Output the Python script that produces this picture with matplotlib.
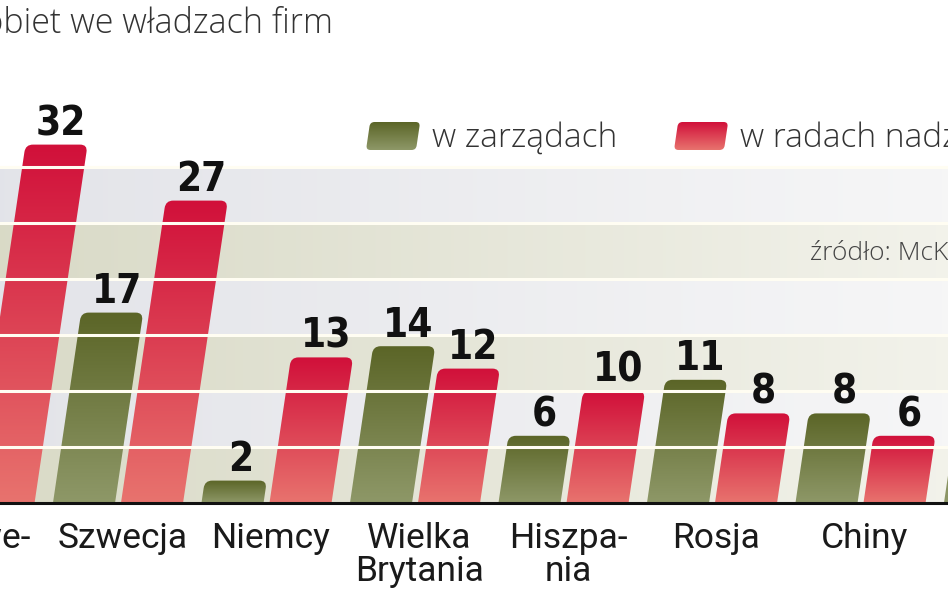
import matplotlib
matplotlib.use('Agg')
import matplotlib.pyplot as plt
import numpy as np
from matplotlib.patches import FancyBboxPatch
from matplotlib.transforms import Affine2D
from matplotlib.colors import LinearSegmentedColormap

# dane (proc.)
kraje = ['Norwe-\ngia', 'Szwecja', 'Niemcy', 'Wielka\nBrytania', 'Hiszpa-\nnia', 'Rosja', 'Chiny', 'USA']
zarzady = [15, 17, 2, 14, 6, 11, 8, 14]
rady = [32, 27, 13, 12, 10, 8, 6, 15]
seria = ['w zarządach', 'w radach nadzorczych']

PX_Y = 11.2          # pikseli na 1 pkt proc.
PX_X = 148.5         # pikseli na grupe
W = 0.418
OFF = 0.229
SLANT = 0.148 * PX_Y / PX_X   # pochylenie slupkow w jednostkach danych

green = LinearSegmentedColormap.from_list('g', ['#8e9868', '#5b6527'])
red = LinearSegmentedColormap.from_list('r', ['#e8736e', '#d1103a'])

fig = plt.figure(figsize=(9.48, 5.93), dpi=100)
ax = fig.add_axes([0, 90 / 593, 1, 503 / 593])
x0lim = 1 - 118 / PX_X
x1lim = x0lim + 948 / PX_X
ax.axis('off')

skew = Affine2D(np.array([[1, SLANT, 0], [0, 1, 0], [0, 0, 1]]))


def slanted(x, y0, w, top, cmap, r=0.05):
    p = FancyBboxPatch((x, y0), w, top - y0,
                       boxstyle='round,pad=0,rounding_size=%f' % r,
                       mutation_aspect=PX_X / PX_Y,
                       transform=skew + ax.transData,
                       facecolor='none', edgecolor='none', zorder=3)
    ax.add_patch(p)
    grad = np.linspace(0, 1, 256).reshape(-1, 1)
    im = ax.imshow(grad, extent=[x - 0.1, x + w + 0.6, max(y0, 0), top],
                   origin='lower', aspect='auto', cmap=cmap, zorder=3,
                   interpolation='bilinear')
    im.set_clip_path(p)


# tlo w pasy
left_cols = {0: np.array([0.851, 0.855, 0.78]), 1: np.array([0.89, 0.894, 0.914])}
right_cols = {0: np.array([0.95, 0.95, 0.92]), 1: np.array([0.965, 0.965, 0.968])}
for k in range(6):
    t = np.linspace(0, 1, 200)[:, None]
    c = left_cols[k % 2] * (1 - t) + right_cols[k % 2] * t
    ax.imshow(c[None, :, :], extent=[x0lim, x1lim, 5 * k, 5 * k + 5],
              aspect='auto', zorder=1, interpolation='bilinear')

# slupki
for i in range(len(kraje)):
    for val, off, cm in [(zarzady[i], -OFF, green), (rady[i], OFF, red)]:
        slanted(i + off - W / 2, -2, W, val, cm)
        ax.text(i + off + SLANT * val + 0.03, val + 0.85, str(val),
                ha='center', va='baseline', fontsize=29, fontweight='bold',
                fontstretch='condensed', family='DejaVu Sans', color='#111111',
                zorder=5)
    ax.text(i + 0.03, -1.7, kraje[i], ha='center', va='top', fontsize=25.5,
            family='Roboto', color='#1a1a1a', linespacing=0.98, clip_on=False)

for y in range(5, 35, 5):
    ax.axhline(y, color='#fffdf2', lw=2.2, zorder=4)
ax.axhline(0, color='#111111', lw=2.2, zorder=6, clip_on=False)

# legenda
ly0 = (503 - 150) / PX_Y
ly1 = (503 - 122) / PX_Y
slanted(x0lim + 366 / PX_X - SLANT * ly0, ly0, 50 / PX_X, ly1, green, r=0.03)
ax.text(x0lim + 432 / PX_X, (503 - 147) / PX_Y, seria[0], fontsize=24,
        family='Open Sans', fontweight='light', color='#333333', va='baseline')
slanted(x0lim + 674 / PX_X - SLANT * ly0, ly0, 50 / PX_X, ly1, red, r=0.03)
ax.text(x0lim + 740 / PX_X, (503 - 147) / PX_Y, seria[1], fontsize=24,
        family='Open Sans', fontweight='light', color='#333333', va='baseline')

ax.text(x0lim + 810 / PX_X, (503 - 260) / PX_Y, 'źródło: McKinsey', fontsize=19,
        family='Open Sans', fontweight='light', color='#444444', va='baseline', zorder=5)

fig.text(333 / 948, 1 - 33 / 593, 'Udział kobiet we władzach firm', ha='right',
         va='baseline', fontsize=24.5, family='Open Sans', fontweight='light', color='#333333')

ax.set_xlim(x0lim, x1lim)
ax.set_ylim(0, 503 / PX_Y)

fig.savefig('out.png', dpi=100)
